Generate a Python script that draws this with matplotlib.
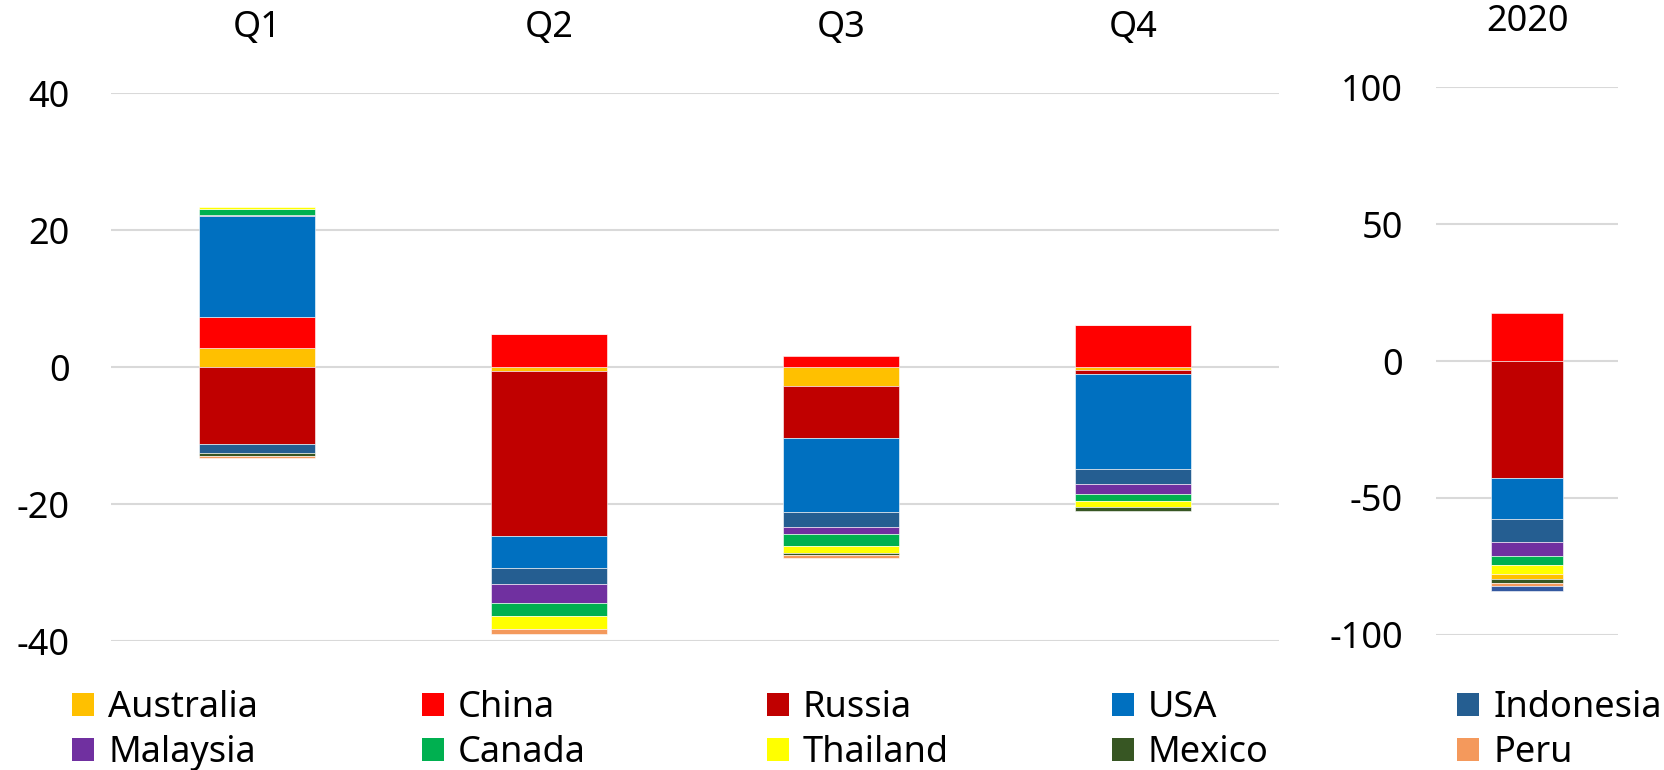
import matplotlib.pyplot as plt
from matplotlib.patches import Patch

plt.rcParams['font.family'] = ['Noto Sans', 'DejaVu Sans']
plt.rcParams['axes.unicode_minus'] = False

quarters = ['Q1', 'Q2', 'Q3', 'Q4']
countries = ['Australia', 'China', 'Russia', 'USA', 'Indonesia',
             'Malaysia', 'Canada', 'Thailand', 'Mexico', 'Peru']
colors = ['#FFC000', '#FF0000', '#C00000', '#0070C0', '#255E91',
          '#7030A0', '#00B050', '#FFFF00', '#375623', '#F4995C']

# contribution per country, one value per quarter
australia = [2.8, -0.6, -2.7, -0.4]
china = [4.5, 4.8, 1.7, 6.1]
russia = [-11.2, -24.0, -7.7, -0.6]
usa = [14.8, -4.8, -10.8, -13.9]
indonesia = [-1.4, -2.3, -2.2, -2.1]
malaysia = [0.15, -2.8, -1.0, -1.5]
canada = [0.9, -1.85, -1.7, -1.0]
thailand = [0.2, -1.85, -1.0, -0.9]
mexico = [-0.35, 0.0, -0.35, -0.6]
peru = [-0.3, -0.8, -0.4, 0.0]
series = [australia, china, russia, usa, indonesia,
          malaysia, canada, thailand, mexico, peru]

# full year 2020, in the order the segments are stacked
year_label = '2020'
year_names = ['China', 'Russia', 'USA', 'Indonesia', 'Malaysia', 'Canada',
              'Thailand', 'Australia', 'Mexico', 'Peru', 'Other']
year_values = [17.5, -42.9, -15.0, -8.2, -5.1, -3.5, -3.3, -1.5, -1.5, -1.1, -1.8]
other_color = '#3358A0'

grid_c = '#D9D9D9'
fs = 26

fig = plt.figure(figsize=(16.65, 7.7), dpi=100)
ax = fig.add_axes([0.0667, 0.1675, 0.7015, 0.7113])
ax2 = fig.add_axes([0.8625, 0.1757, 0.1093, 0.7109])

# stacked bars, positives and negatives stacked separately (like Excel)
pos = [0.0] * len(quarters)
neg = [0.0] * len(quarters)
for name, vals, col in zip(countries, series, colors):
    bottoms = []
    for i, v in enumerate(vals):
        if v >= 0:
            bottoms.append(pos[i])
            pos[i] += v
        else:
            bottoms.append(neg[i])
            neg[i] += v
    ax.bar(range(len(quarters)), vals, bottom=bottoms, width=0.4, color=col,
           edgecolor='white', linewidth=0.4, zorder=3, label=name)

cmap = dict(zip(countries, colors))
cmap['Other'] = other_color
p, n = 0.0, 0.0
for name, v in zip(year_names, year_values):
    if v >= 0:
        b = p
        p += v
    else:
        b = n
        n += v
    ax2.bar([0], [v], bottom=[b], width=0.4, color=cmap[name],
            edgecolor='white', linewidth=0.4, zorder=3)

ax.set_xlim(-0.5, len(quarters) - 0.5)
ax.set_ylim(-40, 40)
ax.set_yticks([-40, -20, 0, 20, 40])
ax2.set_xlim(-0.5, 0.5)
ax2.set_ylim(-100, 100)
ax2.set_yticks([-100, -50, 0, 50, 100])

for a in (ax, ax2):
    for s in a.spines.values():
        s.set_visible(False)
    a.grid(axis='y', color=grid_c, linewidth=1.5, zorder=0)
    a.set_axisbelow(True)
    a.xaxis.tick_top()
    a.tick_params(length=0, labelsize=fs, colors='black')

ax.set_xticks(range(len(quarters)))
ax.set_xticklabels(quarters)
ax.tick_params(axis='x', pad=34)
ax.tick_params(axis='y', pad=30)
ax2.set_xticks([0])
ax2.set_xticklabels([year_label])
ax2.tick_params(axis='x', pad=34)
ax2.tick_params(axis='y', pad=24)

# legend: five evenly spaced columns, two rows
handles = [Patch(facecolor=c, edgecolor='none', label=nm)
           for nm, c in zip(countries, colors)]
col_x = [0.0433, 0.2532, 0.4605, 0.6678, 0.8751]
for j in range(5):
    fig.legend(handles=[handles[j], handles[j + 5]], loc='upper left',
               bbox_to_anchor=(col_x[j], 0.104), frameon=False,
               fontsize=fs, handlelength=0.62, handleheight=0.62,
               handletextpad=0.38, labelspacing=0.25, borderpad=0,
               borderaxespad=0)

fig.savefig('out.png', dpi=100)
